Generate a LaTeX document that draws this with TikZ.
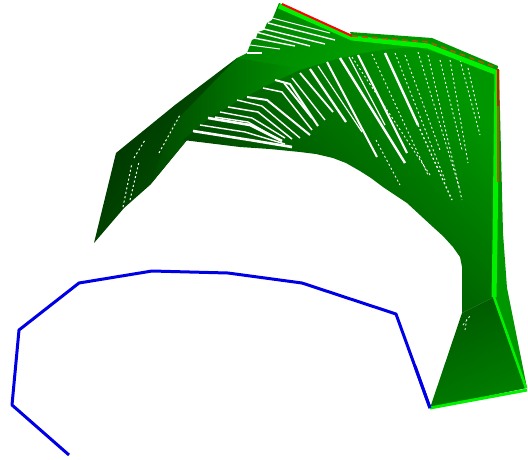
\documentclass[tikz,border=0pt]{standalone}
\usetikzlibrary{calc}
\definecolor{leafdark}{RGB}{0,50,0}
\definecolor{leafmid}{RGB}{0,105,0}
\definecolor{leaflight}{RGB}{0,150,0}
\definecolor{leafbright}{RGB}{0,240,0}
\definecolor{wirebrown}{RGB}{170,90,0}
\begin{document}
\begin{tikzpicture}[
  x=1pt,y=-1pt,
  gap/.style={draw=white,line width=#1,line cap=butt,line join=round},
  gapdot/.style={draw=white,line width=#1,dash pattern=on 2pt off 2.5pt},
  rim/.style={draw=leafbright,line join=round},
  path3d/.style={draw=blue!90!black,line width=3pt,line join=round},
  wire/.style={draw=red,line width=2pt},
  wiredash/.style={draw=wirebrown,line width=1.6pt,dash pattern=on 6pt off 4pt},
]
\useasboundingbox (0,0) rectangle (528,459);

% Blue curve
\draw[path3d] (69,455) -- (12,405) -- (19,330) -- (79,283) -- (152,271) -- (228,273)
  -- (302,283) -- (396,314) -- (430,408);

% Left wing
\shade[left color=leafdark,right color=leafmid,shading angle=60]
  (94,243) -- (116,153) -- (175,105) -- (237,58) -- (300,60) -- (240,100) -- (187,140)
  -- (150,185) -- (124,208) -- cycle;
\shade[left color=leafdark!60!leafmid,right color=leaflight,shading angle=90]
  (237,58) -- (310,52) -- (310,67) -- (240,100) -- (187,140) -- (150,185) -- (172,125) -- cycle;

% Upper fan with toothed left side
\shade[left color=leaflight!90!black,right color=leaflight!65!leafbright,shading angle=60]
  (279,3) -- (352,35) -- (428,42) -- (497,68) -- (497,90) -- (310,70) -- (237,58)
  -- (247,53) -- (252,40) -- (256,38) -- (258,32) -- (264,30) -- (267,23) -- (272,20) -- cycle;

% Arch body down to the neck
\shade[left color=leafdark,right color=leaflight,shading angle=135]
  (183,140) -- (210,118) -- (240,100) -- (270,84) -- (300,70) -- (333,60) -- (363,53)
  -- (390,49) -- (417,47) -- (450,57) -- (497,70) -- (494,297) -- (462,313) -- (462,267)
  -- (460,257) -- (453,247) -- (443,236) -- (433,227) -- (420,215) -- (407,203) -- (395,195)
  -- (383,187) -- (371,178) -- (360,171) -- (346,163) -- (333,158) -- (316,154) -- (300,152)
  -- (270,149) -- (240,147) -- cycle;

% Neck
\shade[left color=leafdark!30!leafmid,right color=leaflight!85!black,shading angle=25]
  (462,313) -- (494,297) -- (527,388) -- (430,408) -- cycle;

% Strip on the right
\fill[leaflight] (499,70) -- (503,233) -- (507,288) -- (527,388) -- (494,297) -- cycle;

% Stripes of the arch
\foreach \xa/\ya/\xb/\yb/\w in {
  340/58/405/163/2.4, 358/55/407/153/2.2, 385/53/418/125/2.4, 327/62/377/157/2.0,
  310/69/346/122/2.2, 318/66/362/132/1.2, 349/57/385/125/1.2, 300/73/333/112/1.8,
  292/78/325/120/1.4, 284/83/312/118/1.8}
  \draw[gap=\w] (\xa,\ya) -- (\xb,\yb);

\foreach \xa/\ya/\xb/\yb/\w in {
  418/125/452/200/1.3, 372/54/428/175/0.9, 395/53/445/180/0.9, 352/57/430/175/0.9,
  418/52/460/190/0.9, 428/55/462/200/0.9, 450/60/468/163/0.9, 460/60/480/135/0.9,
  468/68/480/120/0.9, 440/60/462/150/0.9, 405/55/440/150/0.9, 376/140/400/185/0.9}
  \draw[gapdot=\w] (\xa,\ya) -- (\xb,\yb);

% Bent stripes on the left side
\foreach \xa/\ya/\xb/\yb/\xc/\yc/\w in {
  275/80/290/84/318/126/2.0, 263/88/282/92/312/130/1.5, 247/97/267/100/310/135/2.0,
  237/100/262/106/300/138/1.4, 228/107/258/112/292/139/1.5, 220/112/252/118/285/138/1.4,
  215/117/248/122/280/140/1.4, 208/118/250/125/282/141/2.6, 200/125/245/132/285/144/1.4,
  193/131/250/140/292/147/2.6}
  \draw[gap=\w] (\xa,\ya) -- (\xb,\yb) -- (\xc,\yc);

% Stripes of the upper fan
\foreach \xa/\ya/\xb/\yb/\w in {
  247/53/262/53/1.4, 254/38/295/46/1.4, 256/32/310/46/1.4, 264/29/325/44/1.4,
  268/23/335/40/1.4, 272/18/330/33/1.0, 250/45/280/49/1.0}
  \draw[gap=\w] (\xa,\ya) -- (\xb,\yb);

% Stripes of the wing
\foreach \xa/\ya/\xb/\yb in {
  123/207/132/163, 130/200/139/162, 159/153/180/115, 134/158/145/140}
  \draw[gapdot=1] (\xa,\ya) -- (\xb,\yb);
\draw[gapdot=0.8] (463,325) -- (470,316) (465,330) -- (467,318);

% Bright rims
\fill[leaflight] (350,32) -- (432,38) -- (498,66) -- (497,72) -- (428,45) -- (352,37) -- cycle;
\draw[rim,line width=5pt] (279,6) -- (352,38) -- (428,46) -- (495,72);
\draw[rim,line width=5pt] (497,70) -- (495,240) -- (494,297);
\draw[rim,line width=2.5pt] (494,297) -- (526,388);
\draw[rim,line width=3pt] (430,408) -- (527,390);

% Red wire on the top
\draw[wire] (282,4) -- (352,36);
\draw[wiredash] (352,36) -- (428,42) -- (497,68);
\draw[wire] (498,69) -- (498,106);
\draw[draw=wirebrown,line width=1.6pt] (498,106) -- (498,182);

% Blue end over the neck
\draw[path3d] (415,366) -- (430,408);
\end{tikzpicture}
\end{document}
